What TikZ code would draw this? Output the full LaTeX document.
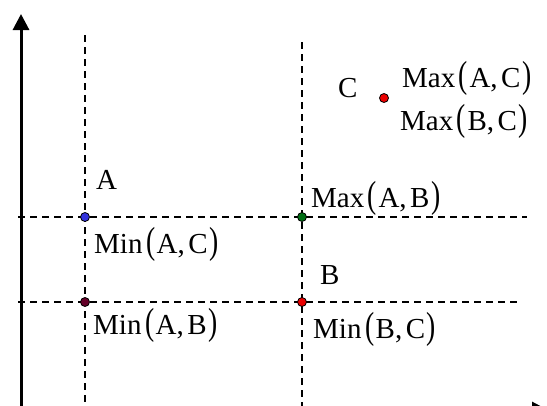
\documentclass[tikz,border=0pt]{standalone}
\usepackage{fontspec}
\setmainfont{Liberation Serif}
\usetikzlibrary{arrows.meta}
\definecolor{ptblue}{RGB}{50,50,220}
\definecolor{ptgreen}{RGB}{0,110,20}
\definecolor{ptmaroon}{RGB}{100,0,40}
\definecolor{ptred}{RGB}{235,0,0}
\newcommand\lpar{\scalebox{0.95}[1.3]{(}}
\newcommand\rpar{\scalebox{0.95}[1.3]{)}}
\newcommand\fn[3]{#1\kern3.5pt\lpar\kern1.5pt#2,\kern3.5pt#3\kern1.5pt\rpar}
\tikzset{
  axis/.style={line width=3pt,-{Triangle[length=16pt,width=16pt]}},
  guide/.style={line width=1.3pt,dash pattern=on 7pt off 5pt},
  pt/.style={circle,draw=black,line width=0.8pt,inner sep=0pt,minimum size=9pt},
  lbl/.style={anchor=base west,inner sep=0pt,font=\fontsize{29}{32}\selectfont}
}
\begin{document}
\begin{tikzpicture}[x=1pt,y=-1pt]
\useasboundingbox (0,0) rectangle (547,405);
% axes
\coordinate (o) at (21,410);
\coordinate (ytip) at (21,14);
\coordinate (xtip) at (548,410);
\draw[axis] (o) -- (ytip);
\draw[axis] (o) -- (xtip);
% guides
\coordinate (v1t) at (85,35);  \coordinate (v1b) at (85,410);
\coordinate (v2t) at (302,42); \coordinate (v2b) at (302,410);
\coordinate (h1l) at (18,217); \coordinate (h1r) at (527,217);
\coordinate (h2l) at (18,302); \coordinate (h2r) at (517,302);
\draw[guide] (v1t) -- (v1b);
\draw[guide] (v2t) -- (v2b);
\draw[guide] (h1l) -- (h1r);
\draw[guide] (h2l) -- (h2r);
% points
\node[pt,fill=ptblue] (pA) at (85,217) {};
\node[pt,fill=ptgreen] (pAB) at (302,217) {};
\node[pt,fill=ptmaroon] (pmAB) at (85,302) {};
\node[pt,fill=ptred] (pB) at (302,302) {};
\node[pt,fill=ptred] (pC) at (384,98) {};
% labels
\node[lbl] (lA) at (96,189) {A};
\node[lbl] (lMinAC) at (94,253) {\fn{Min}{A}{C}};
\node[lbl] (lMaxAB) at (311,207) {\fn{Max}{A}{B}};
\node[lbl] (lB) at (320,284) {B};
\node[lbl] (lMinBC) at (313,338) {\fn{Min}{B}{C}};
\node[lbl] (lMinAB) at (93,334) {\fn{Min}{A}{B}};
\node[lbl] (lC) at (338,97) {C};
\node[lbl] (lMaxAC) at (402,87) {\fn{Max}{A}{C}};
\node[lbl] (lMaxBC) at (400,130) {\fn{Max}{B}{C}};
\end{tikzpicture}
\end{document}
